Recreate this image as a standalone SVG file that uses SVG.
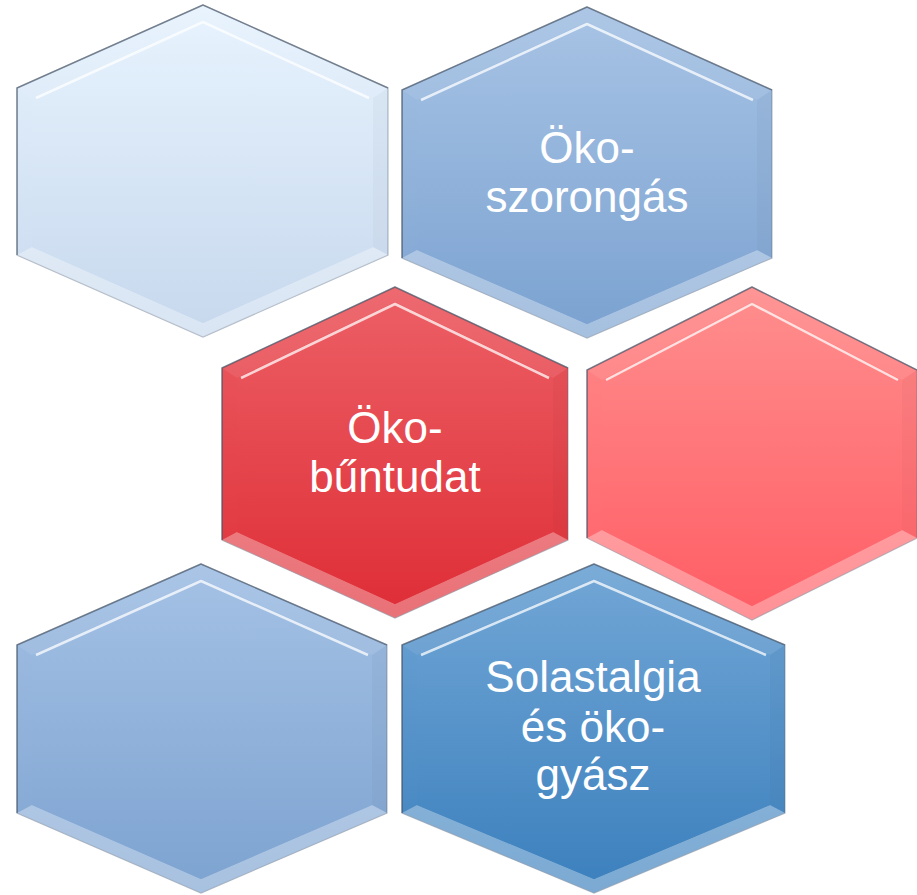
<svg xmlns="http://www.w3.org/2000/svg" width="917" height="895" viewBox="0 0 917 895">
<defs>
<linearGradient id="g1" x1="0" y1="0" x2="0" y2="1"><stop offset="0" stop-color="#e6f2fd"/><stop offset="1" stop-color="#c8d9ee"/></linearGradient>
<linearGradient id="g2" x1="0" y1="0" x2="0" y2="1"><stop offset="0" stop-color="#a6c2e4"/><stop offset="1" stop-color="#7ca3d1"/></linearGradient>
<linearGradient id="g3" x1="0" y1="0" x2="0" y2="1"><stop offset="0" stop-color="#ec5e64"/><stop offset="1" stop-color="#df2f38"/></linearGradient>
<linearGradient id="g4" x1="0" y1="0" x2="0" y2="1"><stop offset="0" stop-color="#ff8c8c"/><stop offset="1" stop-color="#ff5f66"/></linearGradient>
<linearGradient id="g5" x1="0" y1="0" x2="0" y2="1"><stop offset="0" stop-color="#a3c0e4"/><stop offset="1" stop-color="#7ea4d1"/></linearGradient>
<linearGradient id="g6" x1="0" y1="0" x2="0" y2="1"><stop offset="0" stop-color="#70a5d5"/><stop offset="1" stop-color="#3d81be"/></linearGradient>
</defs>
<style>
.outer{stroke:#5f6f82;stroke-opacity:0.45;stroke-width:1.2}
.edge{fill:none;stroke:#3c4a5c;stroke-opacity:0.55;stroke-width:1.5;stroke-linejoin:round}
.bb{fill:#ffffff;fill-opacity:0.32}
.bt{fill:#ffffff;fill-opacity:0.08}
.br{fill:#000000;fill-opacity:0.025}
.hl{fill:none;stroke:#ffffff;stroke-opacity:0.75;stroke-width:2.5;stroke-linejoin:round}
.lbl{font-family:"Liberation Sans","Arial",sans-serif;font-size:44px;fill:#ffffff;text-anchor:middle}
</style>
<rect width="917" height="895" fill="#ffffff"/>
<g id="connectors"/>

<g id="hex1">
<polygon class="outer" fill="url(#g1)" points="203,5 388,88 388,255 203,337 17,255 17,88"/>
<polygon class="bt" points="17,88 203,5 203,20 32,98"/>
<polygon class="bt" points="203,5 388,88 373,98 203,20"/>
<polygon class="br" points="388,88 388,255 373,247 373,98"/>
<polygon class="bb" points="388,255 203,337 203,323 373,247"/>
<polygon class="bb" points="203,337 17,255 32,247 203,323"/>
<polygon fill="url(#g1)" points="203,20 373,98 373,247 203,323 32,247 32,98"/>
<polyline class="hl" points="36,98 203,22 369,98"/>
<polyline class="edge" points="17,255 17,88 203,5 388,88"/>
</g>

<g id="hex2">
<polygon class="outer" fill="url(#g2)" points="587,7 772,90 772,258 587,338 402,258 402,90"/>
<polygon class="bt" points="402,90 587,7 587,22 417,100"/>
<polygon class="bt" points="587,7 772,90 757,100 587,22"/>
<polygon class="br" points="772,90 772,258 757,250 757,100"/>
<polygon class="bb" points="772,258 587,338 587,324 757,250"/>
<polygon class="bb" points="587,338 402,258 417,250 587,324"/>
<polygon fill="url(#g2)" points="587,22 757,100 757,250 587,324 417,250 417,100"/>
<polyline class="hl" points="421,100 587,24 753,100"/>
<polyline class="edge" points="402,258 402,90 587,7 772,90"/>
<text class="lbl" x="587" y="163">Öko-</text>
<text class="lbl" x="587" y="212">szorongás</text>
</g>

<g id="hex3">
<polygon class="outer" fill="url(#g3)" points="395,287 568,368 568,540 395,618 222,540 222,368"/>
<polygon class="bt" points="222,368 395,287 395,302 237,378"/>
<polygon class="bt" points="395,287 568,368 553,378 395,302"/>
<polygon class="br" points="568,368 568,540 553,532 553,378"/>
<polygon class="bb" points="568,540 395,618 395,604 553,532"/>
<polygon class="bb" points="395,618 222,540 237,532 395,604"/>
<polygon fill="url(#g3)" points="395,302 553,378 553,532 395,604 237,532 237,378"/>
<polyline class="hl" points="241,378 395,304 549,378"/>
<polyline class="edge" points="222,540 222,368 395,287 568,368"/>
<text class="lbl" x="395" y="443">Öko-</text>
<text class="lbl" x="395" y="492">bűntudat</text>
</g>

<g id="hex4">
<polygon class="outer" fill="url(#g4)" points="752,287 917,370 917,538 752,620 587,538 587,370"/>
<polygon class="bt" points="587,370 752,287 752,302 602,380"/>
<polygon class="bt" points="752,287 917,370 902,380 752,302"/>
<polygon class="br" points="917,370 917,538 902,530 902,380"/>
<polygon class="bb" points="917,538 752,620 752,606 902,530"/>
<polygon class="bb" points="752,620 587,538 602,530 752,606"/>
<polygon fill="url(#g4)" points="752,302 902,380 902,530 752,606 602,530 602,380"/>
<polyline class="hl" points="606,380 752,304 898,380"/>
<polyline class="edge" points="587,538 587,370 752,287 917,370"/>
</g>

<g id="hex5">
<polygon class="outer" fill="url(#g5)" points="201,564 387,645 387,813 201,893 17,813 17,645"/>
<polygon class="bt" points="17,645 201,564 201,579 32,655"/>
<polygon class="bt" points="201,564 387,645 372,655 201,579"/>
<polygon class="br" points="387,645 387,813 372,805 372,655"/>
<polygon class="bb" points="387,813 201,893 201,879 372,805"/>
<polygon class="bb" points="201,893 17,813 32,805 201,879"/>
<polygon fill="url(#g5)" points="201,579 372,655 372,805 201,879 32,805 32,655"/>
<polyline class="hl" points="36,655 201,581 368,655"/>
<polyline class="edge" points="17,813 17,645 201,564 387,645"/>
</g>

<g id="hex6">
<polygon class="outer" fill="url(#g6)" points="594,564 785,645 785,813 594,893 402,813 402,645"/>
<polygon class="bt" points="402,645 594,564 594,579 417,655"/>
<polygon class="bt" points="594,564 785,645 770,655 594,579"/>
<polygon class="br" points="785,645 785,813 770,805 770,655"/>
<polygon class="bb" points="785,813 594,893 594,879 770,805"/>
<polygon class="bb" points="594,893 402,813 417,805 594,879"/>
<polygon fill="url(#g6)" points="594,579 770,655 770,805 594,879 417,805 417,655"/>
<polyline class="hl" points="421,655 594,581 766,655"/>
<polyline class="edge" points="402,813 402,645 594,564 785,645"/>
<text class="lbl" x="593" y="692">Solastalgia</text>
<text class="lbl" x="593" y="742">és öko-</text>
<text class="lbl" x="593" y="790">gyász</text>
</g>
</svg>
